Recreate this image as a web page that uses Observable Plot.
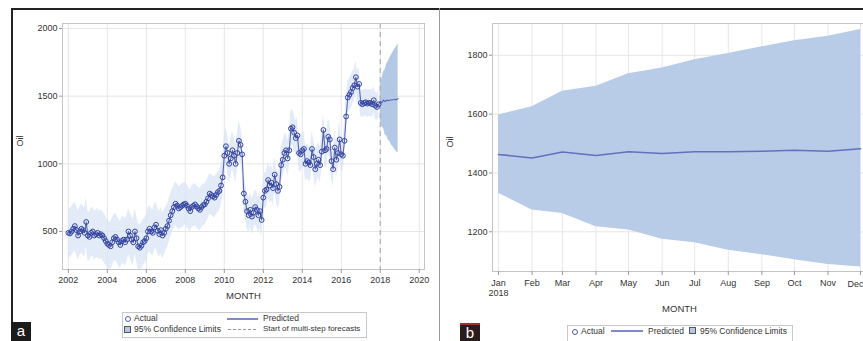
<!DOCTYPE html>
<html><head><meta charset="utf-8">
<script src="https://cdn.jsdelivr.net/npm/d3@7"></script>
<script src="https://cdn.jsdelivr.net/npm/@observablehq/plot@0.6"></script>
<style>
html,body{margin:0;padding:0;background:#fff;overflow:hidden;width:863px;height:341px}
#fig{position:relative;width:863px;height:341px;overflow:hidden;font-family:"Liberation Sans",Arial,sans-serif;color:#333}
.abs{position:absolute}
.lg{position:absolute;font-size:8.5px;line-height:10px;white-space:nowrap;color:#333}
</style></head><body><div id="fig"></div>
<script>
// ---------- data ----------
const firstYear = 2002;
// monthly Oil, Jan 2002 .. Dec 2017 (one row per year)
const actualOil = [
  490, 485, 500, 520, 540, 510, 470, 500, 520, 510, 490, 570,   // 2002
  470, 460, 490, 500, 470, 480, 490, 470, 480, 470, 450, 430,   // 2003
  410, 400, 390, 420, 450, 460, 440, 420, 400, 430, 440, 420,   // 2004
  440, 500, 470, 440, 420, 500, 450, 390, 380, 395, 420, 430,   // 2005
  450, 500, 520, 500, 490, 530, 550, 505, 480, 510, 470, 490,   // 2006
  520, 540, 580, 620, 650, 680, 705, 690, 670, 680, 690, 700,   // 2007
  705, 690, 670, 650, 680, 690, 700, 685, 670, 660, 680, 695,   // 2008
  700, 720, 745, 780, 770, 760, 750, 770, 790, 800, 840, 900,   // 2009
  1060, 1130, 1080, 1000, 1040, 1100, 1060, 1000, 1080, 1170, 1140, 1070, // 2010
  780, 720, 650, 620, 660, 610, 640, 680, 660, 620, 650, 585,   // 2011
  750, 800, 810, 880, 840, 860, 820, 920, 850, 800, 830, 990,   // 2012
  1030, 1080, 1100, 1040, 1100, 1260, 1270, 1230, 1190, 1210, 1080, 1070, // 2013
  1100, 1110, 1000, 1020, 1010, 990, 1110, 1050, 960, 1000, 1030, 990,   // 2014
  1090, 1250, 1100, 1110, 1200, 1180, 1020, 960, 1120, 1030, 1080, 1180, // 2015
  1070, 1060, 1170, 1350, 1490, 1510, 1530, 1560, 1580, 1640, 1570, 1590, // 2016
  1450, 1440, 1450, 1455, 1445, 1450, 1450, 1440, 1470, 1430, 1420, 1440  // 2017
];
// half width of the one-step 95% confidence band, per year 2002..2017
const ciHalfWidth = [180, 180, 175, 170, 170, 160, 155, 150, 140, 130, 130, 130, 130, 130, 120, 100];

// multi-step forecasts, Jan..Dec 2018
const forecastMonths = ["Jan","Feb","Mar","Apr","May","Jun","Jul","Aug","Sep","Oct","Nov","Dec"];
const forecastPred  = [1463, 1451, 1471, 1459, 1472, 1466, 1472, 1472, 1474, 1477, 1474, 1482];
const forecastUpper = [1597, 1625, 1678, 1695, 1737, 1757, 1785, 1806, 1829, 1849, 1865, 1888];
const forecastLower = [1331, 1274, 1262, 1217, 1206, 1175, 1163, 1137, 1122, 1105, 1089, 1080];
const forecastStart = 2018;

const xTicksA = [2002, 2004, 2006, 2008, 2010, 2012, 2014, 2016, 2018, 2020];
const yTicksA = [500, 1000, 1500, 2000];
const yTicksB = [1200, 1400, 1600, 1800];

// ---------- build tables ----------
const hist = actualOil.map((v, i) => ({
  t: firstYear + i / 12, v,
  lo: v - ciHalfWidth[Math.floor(i / 12)], hi: v + ciHalfWidth[Math.floor(i / 12)]
}));
const fcA = forecastPred.map((v, i) => ({t: forecastStart + i / 12, v, lo: forecastLower[i], hi: forecastUpper[i]}));
const fcB = forecastPred.map((v, i) => ({d: new Date(Date.UTC(forecastStart, i, 1)), v, lo: forecastLower[i], hi: forecastUpper[i], m: forecastMonths[i]}));
const monthDates = fcB.map(r => r.d);
const lastMonth = fcB.slice(-1);

const fig = document.getElementById("fig");
const font = '"Liberation Sans", Arial, sans-serif';
const gridC = "#e6e6e6";

// ---------- panel a ----------
const plotA = Plot.plot({
  width: 440, height: 341,
  marginLeft: 62, marginRight: 16, marginTop: 23, marginBottom: 72,
  style: {fontFamily: font, fontSize: "9px", color: "#333", background: "transparent", overflow: "visible"},
  x: {domain: [2001.7, 2020.27]},
  y: {domain: [219, 2037]},
  marks: [
    Plot.gridX(xTicksA, {stroke: gridC, strokeOpacity: 1}),
    Plot.gridY(yTicksA, {stroke: gridC, strokeOpacity: 1}),
    Plot.areaY(hist, {x: "t", y1: "lo", y2: "hi", fill: "#d5e2f4", fillOpacity: 0.7}),
    Plot.areaY(fcA, {x: "t", y1: "lo", y2: "hi", fill: "#b3c8e5"}),
    Plot.ruleX([forecastStart], {stroke: "#b0b0b0", strokeDasharray: "5,4", strokeWidth: 1.2}),
    Plot.line(hist.concat(fcA), {x: "t", y: "v", stroke: "#5563b4", strokeWidth: 1.1}),
    Plot.dot(hist, {x: "t", y: "v", r: 2.4, stroke: "#3242a0", strokeWidth: 1, fill: "none"}),
    Plot.frame({stroke: "#c4c4c4"}),
    Plot.axisX(xTicksA, {tickFormat: d => String(d), tickSize: 4, tickPadding: 3, label: null, stroke: "#999"}),
    Plot.axisY(yTicksA, {tickFormat: d => String(d), tickSize: 3, tickPadding: 2, label: null, stroke: "#999"}),
    Plot.text(["MONTH"], {frameAnchor: "bottom", dy: 29, fontSize: 9.5, fill: "#333"}),
    Plot.text(["Oil"], {frameAnchor: "left", dx: -42, rotate: -90, fontSize: 9, fill: "#333"})
  ]
});
plotA.style.position = "absolute"; plotA.style.left = "0px"; plotA.style.top = "0px";
fig.appendChild(plotA);

// ---------- panel b ----------
const fmtMon = d3.utcFormat("%b");
const plotB = Plot.plot({
  width: 430, height: 341,
  marginLeft: 52, marginRight: 4, marginTop: 23, marginBottom: 70,
  style: {fontFamily: font, fontSize: "9px", color: "#333", background: "transparent", overflow: "visible"},
  x: {type: "utc", domain: [new Date(Date.UTC(2017, 11, 26, 12)), new Date(Date.UTC(2018, 11, 6, 12))]},
  y: {domain: [1065, 1908]},
  marks: [
    Plot.gridX(monthDates, {stroke: gridC, strokeOpacity: 1}),
    Plot.gridY(yTicksB, {stroke: gridC, strokeOpacity: 1}),
    Plot.areaY(fcB, {x: "d", y1: "lo", y2: "hi", fill: "#b8cce7"}),
    Plot.line(fcB, {x: "d", y: "v", stroke: "#6270bd", strokeWidth: 1.5}),
    Plot.frame({stroke: "#c4c4c4"}),
    Plot.axisX(monthDates, {
      tickFormat: (d) => d.getTime() === monthDates[0].getTime() ? fmtMon(d) + "\n" + forecastStart
        : (d.getTime() === lastMonth[0].d.getTime() ? "" : fmtMon(d)),
      tickSize: 4, tickPadding: 3, label: null, stroke: "#999", lineHeight: 1.15
    }),
    // last month label kept inside the visible window
    Plot.text(lastMonth, {x: "d", text: "m", frameAnchor: "bottom", dy: 9, textAnchor: "end", dx: 3, lineAnchor: "top", fontSize: 9, fill: "#333"}),
    Plot.axisY(yTicksB, {tickFormat: d => String(d), tickSize: 3, tickPadding: 2, label: null, stroke: "#999"}),
    Plot.text(["MONTH"], {frameAnchor: "bottom", dy: 40, fontSize: 9.5, fill: "#333"}),
    Plot.text(["Oil"], {frameAnchor: "left", dx: -42, rotate: -90, fontSize: 9, fill: "#333"})
  ]
});
plotB.style.position = "absolute"; plotB.style.left = "440px"; plotB.style.top = "0px";
fig.appendChild(plotB);

// ---------- figure decorations & legends ----------
function el(html) { const t = document.createElement("div"); t.innerHTML = html; const n = t.firstElementChild; fig.appendChild(n); return n; }
// outer frame lines
el('<div class="abs" style="left:11px;top:8px;width:852px;height:1.5px;background:#222"></div>');
el('<div class="abs" style="left:11px;top:8px;width:1.5px;height:314px;background:#222"></div>');
el('<div class="abs" style="left:439px;top:8px;width:1px;height:333px;background:#999"></div>');
// panel labels
el('<div class="abs" style="left:11px;top:322px;width:20px;height:19px;background:#1b1b1b;color:#fff;font:15px/18px \'Liberation Sans\',Arial,sans-serif;text-align:center">a</div>');
el('<div class="abs" style="left:460px;top:323px;width:20px;height:16px;background:#2a1c1c;border-top:2px solid #a03030;color:#fff;font:15px/15px \'Liberation Sans\',Arial,sans-serif;text-align:center">b</div>');

// legend a
el('<div class="abs" style="left:122px;top:312px;width:243px;height:24px;border:1px solid #c8c8c8;background:#fff"></div>');
el('<div class="abs" style="left:125px;top:316px;width:4px;height:4px;border:1px solid #4a5ab0;border-radius:50%"></div>');
el('<div class="lg" style="left:134px;top:313px">Actual</div>');
el('<div class="abs" style="left:227px;top:318px;width:31px;height:2px;background:#8089c9"></div>');
el('<div class="lg" style="left:263px;top:313px">Predicted</div>');
el('<div class="abs" style="left:124px;top:326px;width:5px;height:5px;border:1px solid #555;background:#b3c8e5"></div>');
el('<div class="lg" style="left:134px;top:324px">95% Confidence Limits</div>');
el('<div class="abs" style="left:228px;top:329px;width:28px;height:0;border-top:1px dashed #999"></div>');
el('<div class="lg" style="left:263px;top:324px;font-size:8px">Start of multi-step forecasts</div>');

// legend b
el('<div class="abs" style="left:567px;top:325px;width:224px;height:20px;border:1px solid #c8c8c8;background:#fff"></div>');
el('<div class="abs" style="left:572px;top:329px;width:4px;height:4px;border:1px solid #4a5ab0;border-radius:50%"></div>');
el('<div class="lg" style="left:581px;top:326px">Actual</div>');
el('<div class="abs" style="left:611px;top:330px;width:32px;height:2px;background:#8089c9"></div>');
el('<div class="lg" style="left:648px;top:326px">Predicted</div>');
el('<div class="abs" style="left:689px;top:327px;width:5px;height:5px;border:1px solid #555;background:#b3c8e5"></div>');
el('<div class="lg" style="left:700px;top:326px">95% Confidence Limits</div>');
</script>
</body></html>
